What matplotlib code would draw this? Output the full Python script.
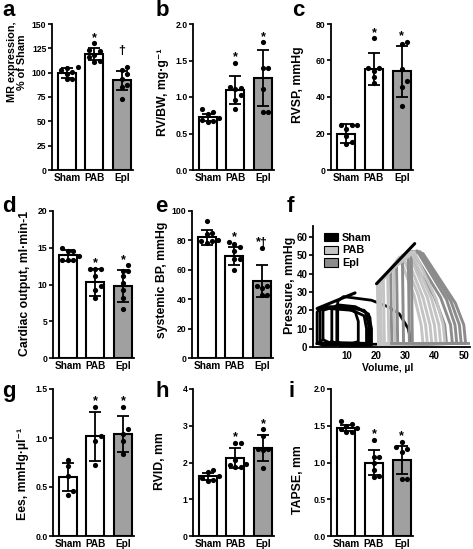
"""Nine-panel figure: RV bar charts (mean, SD, individual points) and PV loops."""

import matplotlib

matplotlib.use("Agg")
import matplotlib.pyplot as plt
import numpy as np
from matplotlib.patches import Patch

plt.rcParams["font.family"] = ["Liberation Sans", "DejaVu Sans"]
plt.rcParams["font.weight"] = "bold"

W, H = 473, 549
GROUPS = ["Sham", "PAB", "Epl"]
BAR_COLORS = ["white", "white", "#a0a0a0"]

# ---- bar panel data (mean, SD, individual animals) ----
mr_mean = [100, 119, 92]
mr_sd = [5, 6, 10]
mr_pts = [[106, 105, 103, 101, 99, 93, 93],
          [130, 123, 122.6, 118, 116, 112, 111],
          [106, 103, 98.6, 94, 87, 85, 72.6]]

rvbw_mean = [0.72, 1.10, 1.26]
rvbw_sd = [0.05, 0.19, 0.38]
rvbw_pts = [[0.83, 0.79, 0.77, 0.71, 0.69, 0.67, 0.655],
            [1.47, 1.14, 1.12, 1.11, 1.03, 0.96, 0.83],
            [1.75, 1.40, 1.40, 1.11, 0.80, 0.80]]

rvsp_mean = [20, 55.5, 54]
rvsp_sd = [5, 8.8, 13.8]
rvsp_pts = [[24.9, 24.4, 24.4, 22.5, 18.5, 15.3, 14],
            [72.2, 55.8, 55.8, 54, 50.7, 47.6],
            [70.4, 68.9, 55.5, 48.5, 45.5, 35.3]]

co_mean = [13.95, 10.3, 9.8]
co_sd = [0.8, 1.8, 2.2]
co_pts = [[15.0, 14.6, 14.5, 13.9, 13.4, 13.3, 13.3],
          [12.1, 12.1, 12.1, 11.1, 9.8, 9.2, 8.1],
          [12.6, 11.9, 11.8, 11.1, 10.2, 9.3, 8.2, 6.6]]

bp_mean = [82, 69.5, 52.5]
bp_sd = [5, 6, 10.7]
bp_pts = [[93, 85, 84.6, 80.5, 79.5, 79.5, 78],
          [78.6, 77.6, 75.5, 72.7, 67.5, 67.5, 59.6],
          [74.5, 49, 49, 47.5, 42.8, 42.8]]

ees_mean = [0.60, 1.02, 1.04]
ees_sd = [0.14, 0.25, 0.18]
ees_pts = [[0.78, 0.71, 0.61, 0.455, 0.42],
           [1.32, 1.02, 0.97, 0.72],
           [1.32, 1.09, 1.04, 0.97, 0.84]]

rvid_mean = [1.62, 2.12, 2.39]
rvid_sd = [0.1, 0.27, 0.35]
rvid_pts = [[1.80, 1.73, 1.62, 1.57, 1.53, 1.51],
            [2.53, 2.53, 2.07, 1.97, 1.93, 1.87, 1.87],
            [2.90, 2.71, 2.36, 2.36, 2.35, 1.85]]

tapse_mean = [1.47, 1.0, 1.04]
tapse_sd = [0.045, 0.17, 0.19]
tapse_pts = [[1.56, 1.53, 1.49, 1.47, 1.45, 1.42, 1.41],
             [1.31, 1.08, 1.07, 0.99, 0.895, 0.82, 0.80],
             [1.28, 1.21, 1.19, 1.14, 0.78, 0.78]]

marks_std = ["", "*", "*"]
marks_mr = ["", "*", "\u2020"]
marks_bp = ["", "*", "*\u2020"]

# ---- PV loops (volume ul, pressure mmHg) ----
sham_loops = [
    [(7, 3), (7, 25), (9, 27.5), (18.5, 25.5), (24, 22), (28, 18), (31, 10), (32, 2), (20, 1.5), (8, 1.5), (7, 3)],
    [(0, 2), (0, 19), (1, 21), (10, 21.5), (16, 20), (18, 16), (18, 3), (17, 1.5), (2, 1), (0, 2)],
    [(1, 3), (1, 20), (3, 22), (9, 22), (13, 19), (14, 14), (14, 3), (12, 2), (2, 2), (1, 3)],
    [(2, 4), (2, 20), (4, 21), (12, 20), (16, 17), (16.8, 10), (16.8, 2), (4, 2.5), (2, 4)],
    [(5, 3), (5, 21), (7, 23), (13, 22), (16.5, 19), (17.5, 12), (17.5, 2), (7, 1.5), (5, 3)],
    [(6.7, 2), (6.7, 20), (8.5, 22), (14, 21), (17.5, 18), (18.5, 10), (18.5, 1), (8, 0.5), (6.7, 2)],
]
# per loop: ESV, end-systolic P, peak volume, peak P, right-side volume, right-side P, EDV
pab_esv = [20.5, 21, 21.5, 22.5, 24, 26]
pab_pes = [33, 34, 35, 37, 40, 43]
pab_pkv = [28, 29, 30, 31, 32, 33]
pab_pkp = [49, 50, 51, 52, 52, 52]
pab_midv = [33, 34.5, 36, 37.5, 39, 40.5]
pab_midp = [28, 28, 27, 27, 26, 26]
pab_edv = [36, 37.5, 39, 40.5, 42, 43.5]

epl_esv = [25, 27, 29, 31, 32]
epl_pes = [41, 45, 48, 51, 52]
epl_pkv = [31, 32.5, 34, 35, 36]
epl_pkp = [51, 52, 52.5, 52, 51]
epl_midv = [40, 42, 44, 45.5, 47]
epl_midp = [27, 27, 26, 25, 24]
epl_edv = [44, 46, 47.5, 49, 50.5]

sham_espvr = [(0, 21), (12.9, 29.5)]
pab_espvr = [(20.2, 34.5), (33.2, 56.4)]


def px_axes(fig, x0, y0, x1, y1):
    return fig.add_axes([x0 / W, 1 - y1 / H, (x1 - x0) / W, (y1 - y0) / H])


def swarm_x(values, ymax, height_px, step_px=28.0, dot_px=5.5):
    """Prism-like scatter: nudge points sideways when they would overlap."""
    ypx = np.asarray(values) * height_px / ymax
    xs = np.zeros(len(values))
    placed = []
    for i in np.argsort(values):
        for cand in (0, 5.5, -5.5, 11, -11, 16, -16):
            if all((cand - px) ** 2 + (ypx[i] - py) ** 2 >= dot_px ** 2 for px, py in placed):
                break
        placed.append((cand, ypx[i]))
        xs[i] = cand / step_px
    return xs


def bar_panel(ax, mean, sd, pts, ymax, yticks, fmt, marks, height_px=146):
    x = np.arange(3)
    per_px = ymax / height_px
    ax.bar(x, mean, width=0.65, color=BAR_COLORS, edgecolor="black",
           linewidth=1.5, zorder=1)
    ax.errorbar(x, mean, yerr=sd, fmt="none", ecolor="black", elinewidth=1.3,
                capsize=4, capthick=1.3, zorder=3)
    for i, vals in enumerate(pts):
        xs = i + swarm_x(vals, ymax, height_px)
        ax.scatter(xs, vals, s=14, color="black", zorder=4, linewidths=0)
        top = max(max(vals), mean[i] + sd[i])
        if marks[i]:
            lift = 13 if marks[i] == "\u2020" else 2.5
            ax.text(i, top + lift * per_px, marks[i], ha="center",
                    va="baseline", fontsize=9, fontweight="bold")
    ax.set_xlim(-0.54, 2.4)
    ax.set_ylim(0, ymax)
    ax.set_yticks(yticks)
    ax.set_yticklabels([fmt.format(t) for t in yticks])
    ax.set_xticks(x)
    ax.set_xticklabels(GROUPS)
    style_axes(ax)
    ax.tick_params(axis="x", length=0, pad=2, labelsize=7.2)


def style_axes(ax):
    for s in ("top", "right"):
        ax.spines[s].set_visible(False)
    for s in ("left", "bottom"):
        ax.spines[s].set_linewidth(1.3)
        ax.spines[s].set_zorder(5)
    ax.tick_params(axis="y", direction="out", length=3, width=1.2, pad=1,
                   labelsize=6.2)
    for lab in ax.get_xticklabels() + ax.get_yticklabels():
        lab.set_fontweight("bold")
    ax.set_facecolor("none")


def loop_poly(esv, pes, pkv, pkp, midv, midp, edv):
    return [(esv + 0.4, 1.5), (esv, pes), (pkv, pkp), (midv, midp),
            (edv - 0.6, 12), (edv, 2), (esv + 0.4, 1.5)]


fig = plt.figure(figsize=(W / 100, H / 100), dpi=100)

row1 = (24, 170)
row2 = (211, 358)
row3 = (389, 536)
cols = [(52, 133), (193, 274), (331, 413)]

ax = px_axes(fig, cols[0][0], row1[0], cols[0][1], row1[1])
bar_panel(ax, mr_mean, mr_sd, mr_pts, 150, [0, 25, 50, 75, 100, 125, 150], "{:.0f}", marks_mr)
ax = px_axes(fig, cols[1][0], row1[0], cols[1][1], row1[1])
bar_panel(ax, rvbw_mean, rvbw_sd, rvbw_pts, 2.0, [0, 0.5, 1.0, 1.5, 2.0], "{:.1f}", marks_std)
ax = px_axes(fig, cols[2][0], row1[0], cols[2][1], row1[1])
bar_panel(ax, rvsp_mean, rvsp_sd, rvsp_pts, 80, [0, 20, 40, 60, 80], "{:.0f}", marks_std)

ax = px_axes(fig, 53, row2[0], 134, row2[1])
bar_panel(ax, co_mean, co_sd, co_pts, 20, [0, 5, 10, 15, 20], "{:.0f}", marks_std, 147)
ax = px_axes(fig, 192, row2[0], 273, row2[1])
bar_panel(ax, bp_mean, bp_sd, bp_pts, 100, [0, 20, 40, 60, 80, 100], "{:.0f}", marks_bp, 147)

# panel f: pressure-volume loops
ax = px_axes(fig, 313, 226, 470, 347)
for loop in sham_loops:
    v, p = zip(*loop)
    ax.plot(v, p, color="black", lw=2.0, solid_joinstyle="round")
pab_polys = [loop_poly(*a) for a in zip(pab_esv, pab_pes, pab_pkv, pab_pkp,
                                          pab_midv, pab_midp, pab_edv)]
epl_polys = [loop_poly(*a) for a in zip(epl_esv, epl_pes, epl_pkv, epl_pkp,
                                          epl_midv, epl_midp, epl_edv)]
for k in range(max(len(pab_polys), len(epl_polys))):
    if k < len(epl_polys):
        v, p = zip(*epl_polys[k])
        ax.plot(v, p, color="#8c8c8c", lw=2.1, solid_joinstyle="round")
    if k < len(pab_polys):
        v, p = zip(*pab_polys[k])
        ax.plot(v, p, color="#c4c4c4", lw=2.1, solid_joinstyle="round")
ax.plot([epl_esv[0], 52], [2, 2], color="#8c8c8c", lw=2.0)
for line in (sham_espvr, pab_espvr):
    v, p = zip(*line)
    ax.plot(v, p, color="black", lw=2.2, solid_capstyle="round")
ax.set_xlim(-1.4, 52)
ax.set_ylim(0, 66)
ax.set_yticks([0, 10, 20, 30, 40, 50, 60])
ax.set_xticks([10, 20, 30, 40, 50])
style_axes(ax)
ax.tick_params(axis="both", labelsize=7)
ax.tick_params(axis="x", length=0, pad=3)
handles = [Patch(facecolor=c, edgecolor="black", linewidth=0.8)
           for c in ("black", "#c4c4c4", "#8c8c8c")]
leg = ax.legend(handles, GROUPS, loc="upper left", bbox_to_anchor=(0.04, 0.98),
                frameon=False, handlelength=1.3, handleheight=0.8,
                handletextpad=0.4, labelspacing=0.25, borderaxespad=0.0,
                prop={"size": 7.8, "weight": "bold"})

ax = px_axes(fig, 53, row3[0], 134, row3[1])
bar_panel(ax, ees_mean, ees_sd, ees_pts, 1.5, [0, 0.5, 1.0, 1.5], "{:.1f}", marks_std, 147)
ax = px_axes(fig, 193, row3[0], 274, row3[1])
bar_panel(ax, rvid_mean, rvid_sd, rvid_pts, 4, [0, 1, 2, 3, 4], "{:.0f}", marks_std, 147)
ax = px_axes(fig, 331, row3[0], 413, row3[1])
bar_panel(ax, tapse_mean, tapse_sd, tapse_pts, 2.0, [0, 0.5, 1.0, 1.5, 2.0], "{:.1f}", marks_std, 147)

# axis titles, placed where the original has them
ylabels = [
    (163, 92, "RV/BW, mg\u00b7g\u207b\u00b9"),
    (298, 85, "RVSP, mmHg"),
    (25, 283, "Cardiac output, ml\u00b7min-1"),
    (162, 280, "systemic BP, mmHg"),
    (290, 285, "Pressure, mmHg"),
    (23, 474, "Ees, mmHg\u00b7\u00b5l\u207b\u00b9"),
    (160, 461, "RVID, mm"),
    (298, 480, "TAPSE, mm"),
]
for x, y, s in ylabels:
    fig.text(x / W, 1 - y / H, s, rotation=90, ha="center", va="center",
             fontsize=8.8, fontweight="bold")
fig.text(17 / W, 1 - 62 / H, "MR expression,\n% of Sham", rotation=90,
         ha="center", va="center", fontsize=7.8, fontweight="bold",
         linespacing=1.05)
fig.text(388 / W, 1 - 368 / H, "Volume, \u00b5l", ha="center", va="center",
         fontsize=7.5, fontweight="bold")

letters = [("a", 2, 16), ("b", 156, 16), ("c", 292, 16),
           ("d", 2, 212), ("e", 155, 212), ("f", 287, 212),
           ("g", 2, 397), ("h", 155, 397), ("i", 288, 397)]
for s, x, y in letters:
    fig.text(x / W, 1 - y / H, s, ha="left", va="baseline", fontsize=16,
             fontweight="bold")

fig.savefig("out.png", dpi=100)
